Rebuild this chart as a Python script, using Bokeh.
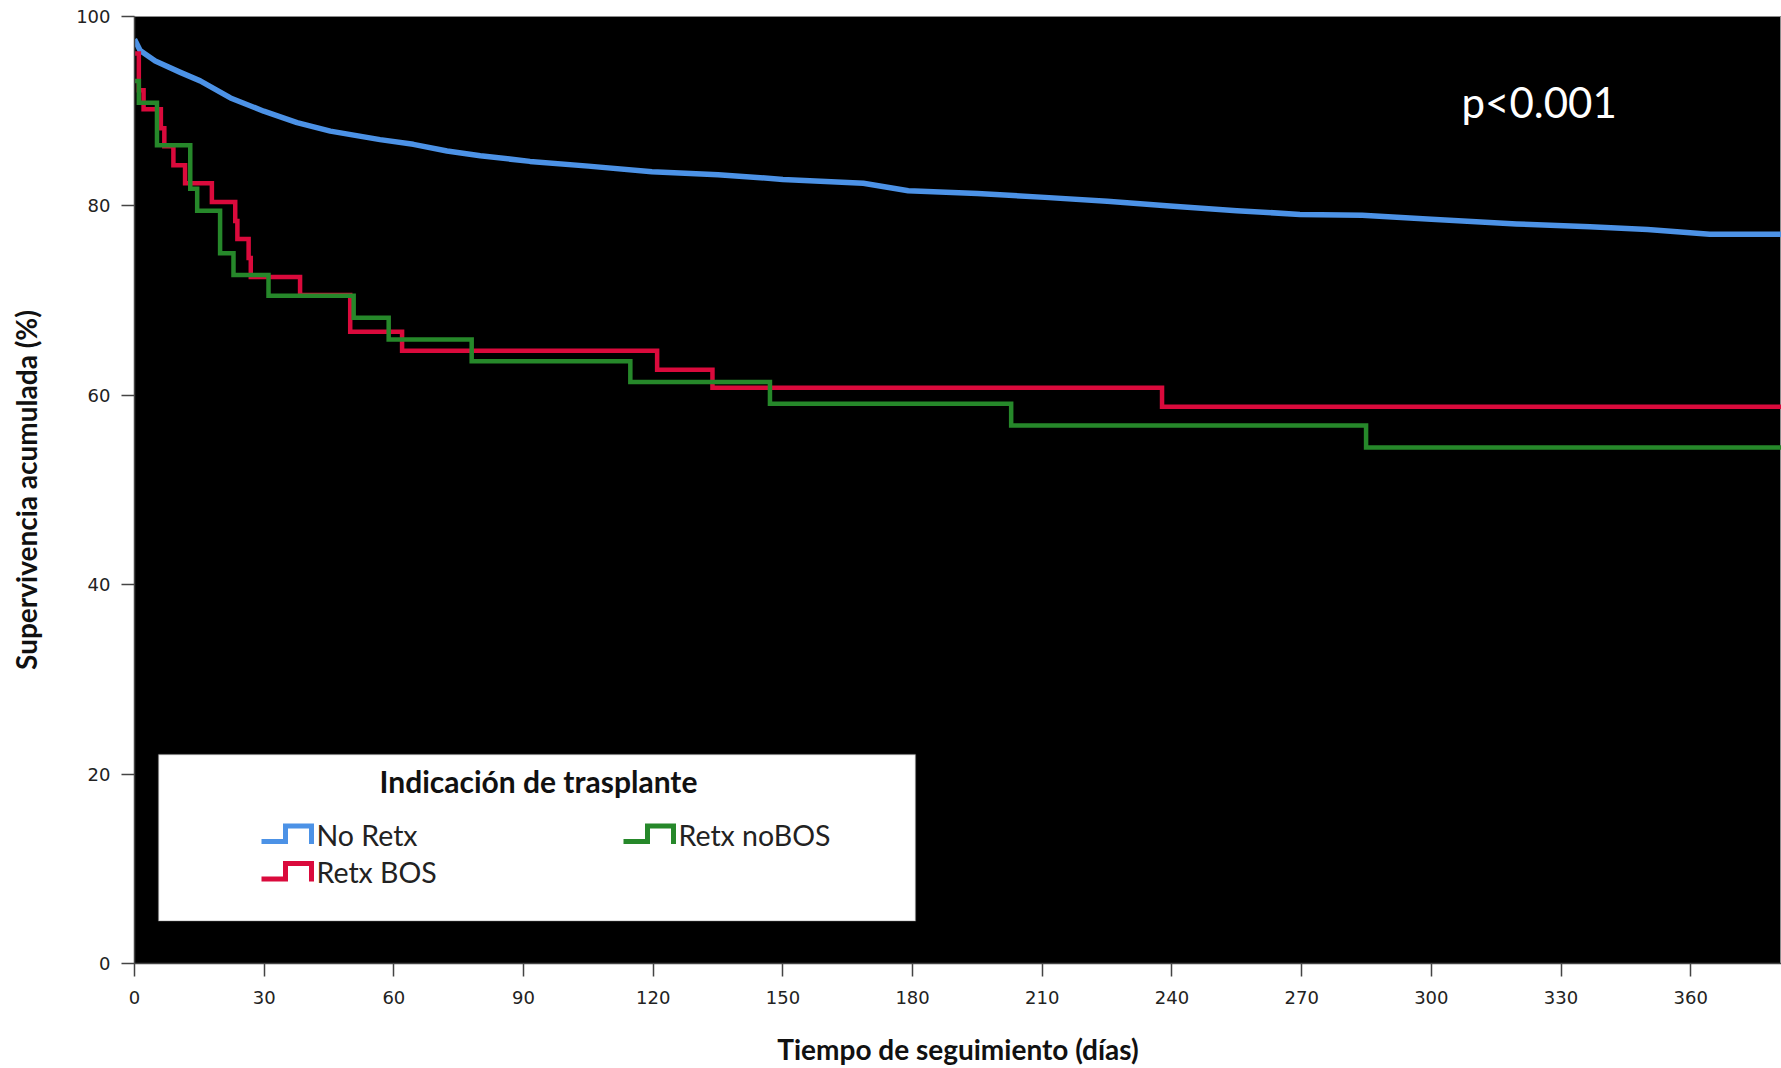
from bokeh.plotting import figure
from bokeh.models import Range1d, FixedTicker, Label, BoxAnnotation
from bokeh.embed import file_html
from bokeh.resources import INLINE

# ---------------- data ----------------
series_names = ["No Retx", "Retx BOS", "Retx noBOS"]
legend_title = "Indicación de trasplante"
p_value_text = "p<0.001"
x_title = "Tiempo de seguimiento (días)"
y_title = "Supervivencia acumulada (%)"

days_no_retx = [0, 1.3, 4.8, 10.6, 15.2, 22.2, 29.9, 37.6, 45.3, 56.8, 64.5, 72.3, 80,
                91.5, 105, 119.7, 135, 150, 168.6, 179, 195, 210.6, 225, 239.5, 255,
                269.6, 284, 300, 319.7, 336.7, 350, 364.4, 381]
surv_no_retx = [97.6, 96.4, 95.3, 94.1, 93.2, 91.4, 90.0, 88.8, 87.9, 87.0, 86.5, 85.8, 85.3,
                84.7, 84.2, 83.6, 83.3, 82.8, 82.4, 81.6, 81.3, 80.9, 80.5, 80.0, 79.5,
                79.1, 79.0, 78.6, 78.1, 77.8, 77.5, 77.0, 77.0]

days_retx_bos = [0, 1.0, 2.1, 6.1, 6.9, 9.0, 11.7, 17.9, 23.3, 23.8, 26.4, 26.9, 38.3,
                 49.9, 61.9, 120.9, 133.7, 237.7, 381]
surv_retx_bos = [96.1, 92.2, 90.2, 88.2, 86.3, 84.3, 82.4, 80.4, 78.4, 76.5, 74.5, 72.5, 70.6,
                 66.7, 64.7, 62.7, 60.8, 58.8, 58.8]

days_retx_nobos = [0, 1.0, 5.2, 12.9, 14.5, 19.8, 22.9, 31.0, 50.7, 58.8, 78.0, 114.7,
                   147.0, 202.8, 284.9, 381]
surv_retx_nobos = [93.2, 90.9, 86.4, 81.8, 79.5, 75.0, 72.7, 70.5, 68.2, 65.9, 63.6, 61.4,
                   59.1, 56.8, 54.5, 54.5]

x_ticks = [0, 30, 60, 90, 120, 150, 180, 210, 240, 270, 300, 330, 360]
y_ticks = [0, 20, 40, 60, 80, 100]

colors = ["#4C92E6", "#DA0A3C", "#26882A"]

# ---------------- layout ----------------
W, H = 1781, 1068
LEFT, TOP, BOTTOM = 134, 16, 105
X_MAX = 381
FRAME_W = W - LEFT
FRAME_H = H - TOP - BOTTOM
PX_X = X_MAX / FRAME_W
PX_Y = 100 / FRAME_H
FRAME_X0 = LEFT
FRAME_Y1 = TOP + FRAME_H
BASE_SHIFT = 0.38   # svg alphabetic baseline correction (em)


def dx(px):
    return (px - FRAME_X0) * PX_X


def dy(py):
    return (FRAME_Y1 - py) * PX_Y


def base_y(py, fs):
    return dy(py - BASE_SHIFT * fs)


p = figure(width=W, height=H, output_backend="svg", toolbar_location=None,
           x_range=Range1d(0, X_MAX), y_range=Range1d(0, 100),
           min_border_left=LEFT, min_border_right=0, min_border_top=TOP,
           min_border_bottom=BOTTOM)
p.background_fill_color = "black"
p.border_fill_color = "white"
p.outline_line_color = "#8c8c8c"
p.outline_line_width = 1
p.xgrid.visible = False
p.ygrid.visible = False

for ax in (p.xaxis[0], p.yaxis[0]):
    ax.axis_line_color = "#444444"
    ax.axis_line_width = 1.5
    ax.major_tick_line_color = "#444444"
    ax.major_tick_line_width = 1.5
    ax.major_tick_out = 13
    ax.major_tick_in = 0
    ax.minor_tick_out = 0
    ax.minor_tick_in = 0
    ax.major_label_text_font = "DejaVu Sans"
    ax.major_label_text_font_size = "18px"
    ax.major_label_text_color = "#222222"
    ax.axis_label_text_font = "Lato"
    ax.axis_label_text_font_style = "bold"
    ax.axis_label_text_font_size = "28px"
    ax.axis_label_text_color = "#111111"

p.xaxis.ticker = FixedTicker(ticks=x_ticks)
p.yaxis.ticker = FixedTicker(ticks=y_ticks)
p.xaxis.major_label_standoff = 14
p.yaxis.major_label_standoff = 11
p.xaxis.axis_label = x_title
p.yaxis.axis_label = y_title
p.xaxis.axis_label_standoff = 25
p.yaxis.axis_label_standoff = 30

# ---------------- curves ----------------
p.line(days_no_retx, surv_no_retx, line_color=colors[0], line_width=5.5, line_join="round")
p.step(days_retx_bos, surv_retx_bos, mode="after", line_color=colors[1], line_width=4.5,
       line_join="miter")
p.step(days_retx_nobos, surv_retx_nobos, mode="after", line_color=colors[2], line_width=4.5,
       line_join="miter")

# ---------------- p-value ----------------
p.add_layout(Label(x=dx(1461), y=base_y(117, 42), text=p_value_text, text_color="white",
                   text_font="Lato", text_font_size="42px", text_baseline="alphabetic",
                   text_align="left"))

# ---------------- legend ----------------
p.add_layout(BoxAnnotation(left=dx(158), right=dx(915), top=dy(754), bottom=dy(920.5),
                           fill_color="white", fill_alpha=1.0,
                           line_color="#7a7a7a", line_width=1.5))
p.add_layout(Label(x=dx(538), y=base_y(792, 30), text=legend_title, text_color="#111111",
                   text_font="Lato", text_font_style="bold", text_font_size="30px",
                   text_baseline="alphabetic", text_align="center"))

item_pos = [(316, 845), (316, 882.5), (678, 845)]
for name, col, (tx, by) in zip(series_names, colors, item_pos):
    xs = [dx(tx - 55), dx(tx - 31), dx(tx - 31), dx(tx - 5), dx(tx - 5)]
    ys = [dy(by - 4), dy(by - 4), dy(by - 19.5), dy(by - 19.5), dy(by - 1.5)]
    r = p.line(xs, ys, line_color=col, line_width=5, line_join="miter")
    r.level = "overlay"
    p.add_layout(Label(x=dx(tx), y=base_y(by, 28.5), text=name, text_color="#222222",
                       text_font="Lato", text_font_size="28.5px",
                       text_baseline="alphabetic", text_align="left"))

open("out.html", "w").write(file_html(p, INLINE))
